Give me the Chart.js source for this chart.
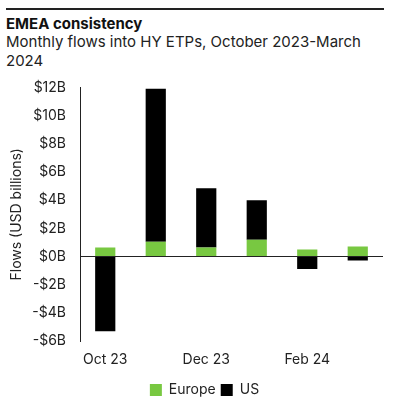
<!DOCTYPE html>
<html>
<head>
<meta charset="utf-8">
<script src="https://cdn.jsdelivr.net/npm/chart.js@4"></script>
<style>
  body { margin: 0; background: #fff; font-family: Inter, "Noto Sans", sans-serif; overflow: hidden; }
  #wrap { position: relative; width: 394px; height: 400px; overflow: hidden; }
  #rule { position: absolute; left: 6px; top: 8px; width: 378px; height: 2px; background: #222; }
  #title { position: absolute; left: 6px; top: 14px; font-size: 15px; font-weight: 700; color: #111; }
  #sub { position: absolute; left: 6px; top: 32px; width: 380px; font-size: 15px; line-height: 19px; color: #222; }
  #box { position: absolute; left: 0; top: 65px; width: 394px; height: 342px; }
</style>
</head>
<body>
<div id="wrap">
  <div id="rule"></div>
  <div id="title">EMEA consistency</div>
  <div id="sub">Monthly flows into HY ETPs, October 2023-March 2024</div>
  <div id="box"><canvas id="flowChart"></canvas></div>
</div>
<script>
const months = ['Oct 23', 'Nov 23', 'Dec 23', 'Jan 24', 'Feb 24', 'Mar 24'];
const europe = [0.65, 1.05, 0.65, 1.2, 0.5, 0.72];
const us = [-5.3, 10.85, 4.2, 2.8, -0.88, -0.28];

const ctx = document.getElementById('flowChart').getContext('2d');
const flowChart = new Chart(ctx, {
    type: 'bar',
    data: {
        labels: months,
        datasets: [
            { label: 'Europe', data: europe, backgroundColor: '#78c841', barPercentage: 0.4, categoryPercentage: 1 },
            { label: 'US', data: us, backgroundColor: '#000000', barPercentage: 0.4, categoryPercentage: 1 }
        ]
    },
    options: {
        responsive: true,
        maintainAspectRatio: false,
        animation: false,
        // left padding pushes the legend centre right, y axis width makes up the rest
        layout: { padding: { top: 1, right: 11, left: 26, bottom: 0 } },
        plugins: {
            legend: {
                position: 'bottom',
                labels: { boxWidth: 12, boxHeight: 12, padding: 5, color: '#222', font: { family: 'Inter', size: 14 } }
            },
            tooltip: { enabled: false }
        },
        scales: {
            x: {
                stacked: true,
                grid: { display: false, drawTicks: false },
                border: { display: false },
                ticks: {
                    autoSkip: false,
                    maxRotation: 0,
                    color: '#222',
                    padding: 10,
                    font: { family: 'Inter', size: 14 },
                    callback: function (val, i) { return i % 2 === 0 ? this.getLabelForValue(val) : ''; }
                }
            },
            y: {
                stacked: true,
                min: -6,
                max: 12,
                afterFit: (s) => { s.width = 54; },
                border: { display: true, color: '#222', width: 1 },
                grid: {
                    drawTicks: false,
                    color: (c) => c.tick && c.tick.value === 0 ? '#222' : 'rgba(0,0,0,0)'
                },
                title: { display: true, text: 'Flows (USD billions)', color: '#222', font: { family: 'Inter', size: 14 }, padding: { top: -18, bottom: 0 } },
                ticks: {
                    stepSize: 2,
                    padding: 14,
                    color: '#222',
                    font: { family: 'Inter', size: 14 },
                    callback: (v) => (v < 0 ? '-$' + Math.abs(v) : '$' + v) + 'B'
                }
            }
        }
    }
});
</script>
</body>
</html>
